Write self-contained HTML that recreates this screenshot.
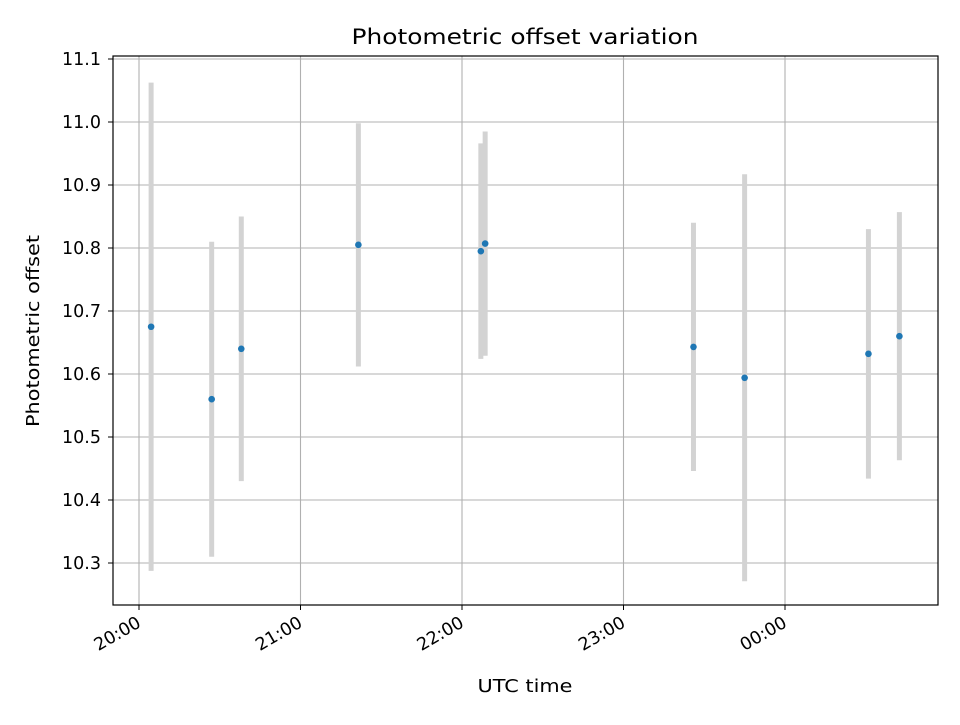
<!DOCTYPE html>
<html><head><meta charset="utf-8">
<style>
body{margin:0;background:#fff;font-family:"Liberation Sans","DejaVu Sans",sans-serif;}
svg text{font-family:"DejaVu Sans","Liberation Sans",sans-serif;}
</style></head>
<body>
<svg id="chart" width="960" height="720" xmlns="http://www.w3.org/2000/svg">
<rect width="960" height="720" fill="#fff"/>
<text x="525" y="44" text-anchor="middle" font-size="21" textLength="347" lengthAdjust="spacingAndGlyphs">Photometric offset variation</text>
<g id="grid"></g>
<g id="bars"></g>
<g id="points"></g>
<rect x="113" y="56" width="825" height="549" fill="none" stroke="#000" stroke-width="1.2"/>
<g id="ticks"></g>
<text x="525" y="692" text-anchor="middle" font-size="18" textLength="95" lengthAdjust="spacingAndGlyphs">UTC time</text>
<text transform="translate(39,331) rotate(-90)" text-anchor="middle" font-size="18" textLength="192" lengthAdjust="spacingAndGlyphs">Photometric offset</text>
</svg>
<script>
// minutes after 20:00 UTC
const times=[4.5,27,38,81.5,127,128.6,206,225,271,282.5];
const offsets=[10.675,10.56,10.64,10.805,10.795,10.807,10.643,10.594,10.632,10.66];
const errors=[0.3875,0.25,0.21,0.193,0.171,0.178,0.197,0.323,0.198,0.197];
const yTicks=[10.3,10.4,10.5,10.6,10.7,10.8,10.9,11.0,11.1];
const xTickMinutes=[0,60,120,180,240];
const xTickLabels=["20:00","21:00","22:00","23:00","00:00"];

const NS="http://www.w3.org/2000/svg";
function X(m){return 139+m*(785-139)/240;}
function Y(v){return 563-(v-10.3)*(563-59)/0.8;}
function mk(parent,tag,attrs){const e=document.createElementNS(NS,tag);for(const k in attrs)e.setAttribute(k,attrs[k]);document.getElementById(parent).appendChild(e);return e;}

yTicks.forEach((v,i)=>{
  const g=mk('grid','line',{x1:113,x2:938,y1:Y(v),y2:Y(v),stroke:'#b0b0b0','stroke-width':1.1});
  
  
  const t=mk('ticks','line',{x1:108,x2:113,y1:Y(v),y2:Y(v),stroke:'#000'});
  
  
  const l=mk('ticks','text',{x:101,y:Y(v)+6,'text-anchor':'end','font-size':17.5});
  l.textContent=v.toFixed(1);
  
  
});
xTickMinutes.forEach((m,i)=>{
  const g=mk('grid','line',{x1:X(m),x2:X(m),y1:56,y2:605,stroke:'#b0b0b0','stroke-width':1.1});
  
  
  const t=mk('ticks','line',{x1:X(m),x2:X(m),y1:605,y2:610,stroke:'#000'});
  
  
  const l=mk('ticks','text',{transform:`translate(${X(m)+3},${626}) rotate(-30)`,'text-anchor':'end','font-size':17.5});
  l.textContent=xTickLabels[i];
  
  
});
times.forEach((m,i)=>{
  const b=mk('bars','line',{x1:X(m),x2:X(m),y1:Y(offsets[i]-errors[i]),y2:Y(offsets[i]+errors[i]),stroke:'#d3d3d3','stroke-width':5});
  
  
});
times.forEach((m,i)=>{
  const p=mk('points','circle',{cx:X(m),cy:Y(offsets[i]),r:3.3,fill:'#1f77b4'});
  
  
});
</script>
</body></html>
